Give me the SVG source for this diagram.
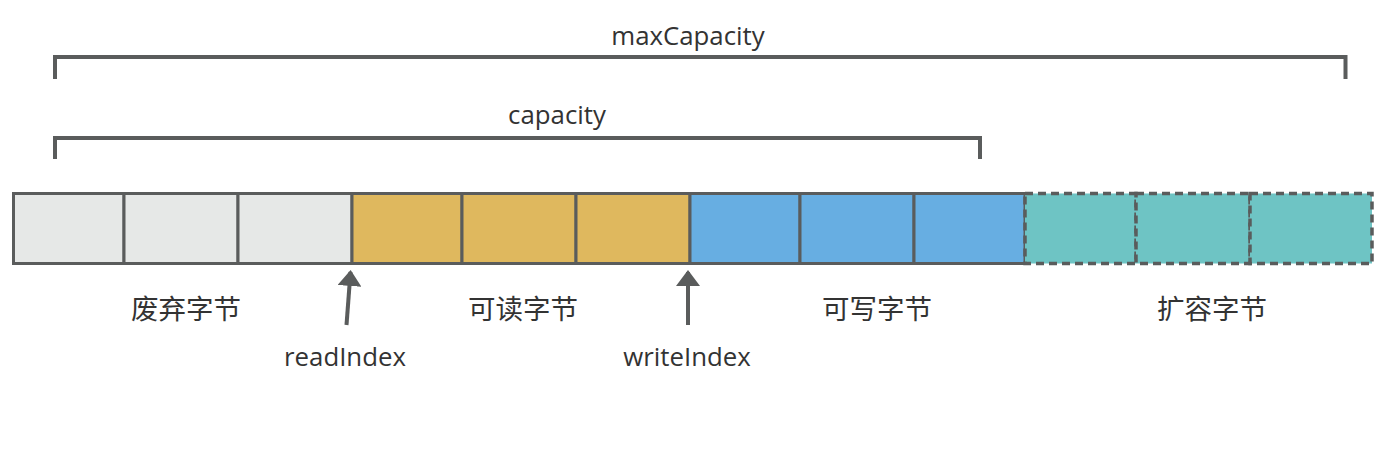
<svg xmlns="http://www.w3.org/2000/svg" width="1390" height="458" viewBox="0 0 1390 458">
<style>
.cell{stroke:#5a5c5c;stroke-width:3}
.g{fill:#e6e8e7}.y{fill:#dfb85e}.b{fill:#67aee2}.t{fill:#6ec4c4;stroke-width:3.5;stroke-dasharray:8 5}
.br{fill:none;stroke:#5a5c5c;stroke-width:4;stroke-linejoin:miter}
.lbl{font-family:"Open Sans","Noto Sans CJK SC",sans-serif;fill:#333;text-anchor:middle}
.cn{font-family:"Noto Sans CJK SC",sans-serif;font-size:27.5px;fill:#333;text-anchor:middle}
.arr{stroke:#5a5c5c;stroke-width:4;fill:none}
</style>
<defs>
<marker id="ah" markerWidth="4" markerHeight="6" refX="3.5" refY="3" orient="auto" markerUnits="strokeWidth" viewBox="0 0 4 6">
<path d="M0,0 L4,3 L0,6 z" fill="#5a5c5c"/>
</marker>
</defs>
<g id="maxCapacity">
<path class="br" d="M55,79 V57 H1345.5 V79"/>
<text class="lbl" x="688" y="45" font-size="25.8">maxCapacity</text>
</g>
<g id="capacity">
<path class="br" d="M55,159 V138 H980 V159"/>
<text class="lbl" x="557" y="124" font-size="25.8">capacity</text>
</g>
<g id="discard">
<rect class="cell g" x="13.5" y="193.5" width="110.5" height="70"/>
<rect class="cell g" x="124" y="193.5" width="114" height="70"/>
<rect class="cell g" x="238" y="193.5" width="114" height="70"/>
<text class="cn" x="186" y="319">废弃字节</text>
</g>
<g id="readable">
<rect class="cell y" x="352" y="193.5" width="110" height="70"/>
<rect class="cell y" x="462" y="193.5" width="114" height="70"/>
<rect class="cell y" x="576" y="193.5" width="114" height="70"/>
<text class="cn" x="523" y="319">可读字节</text>
</g>
<g id="writable">
<rect class="cell b" x="690" y="193.5" width="110" height="70"/>
<rect class="cell b" x="800" y="193.5" width="114" height="70"/>
<rect class="cell b" x="914" y="193.5" width="111" height="70"/>
<text class="cn" x="877" y="319">可写字节</text>
</g>
<g id="expand">
<rect class="cell t" x="1025" y="193.5" width="111" height="70"/>
<rect class="cell t" x="1136" y="193.5" width="114" height="70"/>
<rect class="cell t" x="1250" y="193.5" width="122" height="70"/>
<text class="cn" x="1212" y="319">扩容字节</text>
</g>
<g id="readIndex">
<text class="lbl" x="345" y="366" font-size="25.8">readIndex</text>
</g>
<g id="writeIndex">
<text class="lbl" x="687" y="366" font-size="25.8">writeIndex</text>
</g>
<g id="connectors">
<line class="arr" x1="346.5" y1="325" x2="350.5" y2="272" marker-end="url(#ah)"/>
<line class="arr" x1="688" y1="325" x2="688" y2="272" marker-end="url(#ah)"/>
</g>
</svg>
